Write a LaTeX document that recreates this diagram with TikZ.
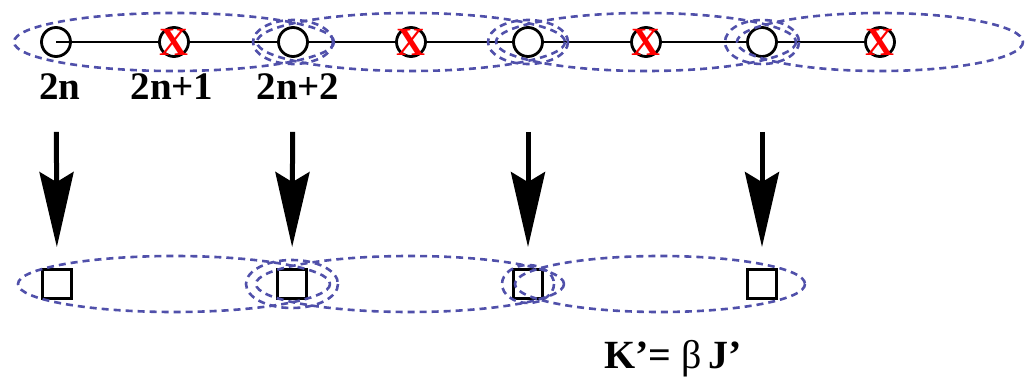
\documentclass[tikz,border=0pt]{standalone}
\usepackage{fontspec}
\setmainfont{Liberation Serif}
\usetikzlibrary{arrows.meta,positioning,backgrounds}
\definecolor{pairblue}{RGB}{80,80,170}

\begin{document}
\begin{tikzpicture}[
    x=1pt, y=-1pt,
    site/.style={circle, draw, line width=2.8pt, minimum size=29pt, inner sep=0pt, fill=white},
    dsite/.style={site, label={[text=red, font=\fontsize{40}{40}\selectfont\bfseries, inner sep=0pt]center:X}},
    spin/.style={rectangle, draw, line width=2.8pt, minimum size=29pt, inner sep=0pt, fill=white},
    lbl/.style={font=\fontsize{39}{39}\selectfont\bfseries, inner sep=0pt, anchor=base},
    pair/.style={draw=pairblue, line width=2.6pt, dash pattern=on 7pt off 5pt},
    decim/.style={line width=5pt, -{Stealth[length=75pt, width=34pt, inset=10pt]}, shorten <=74pt, shorten >=21pt}
]
    \useasboundingbox (0,0) rectangle (1034,380);

    % Original chain
    \node[site, fill=none] (c1) at (56,42) {};
    \node[dsite] (x1) at (174,42) {};
    \node[site] (c2) at (293,42) {};
    \node[dsite] (x2) at (411,42) {};
    \node[site] (c3) at (528,42) {};
    \node[dsite] (x3) at (646,42) {};
    \node[site] (c4) at (762,42) {};
    \node[dsite] (x4) at (880,42) {};

    % Site labels
    \node[lbl] (l1) at (60,99) {2n};
    \node[lbl] (l2) at (172,99) {2n+1};
    \node[lbl] (l3) at (298,99) {2n+2};

    % Decimated chain
    \node[spin] (s1) at (57,284) {};
    \node[spin] (s2) at (292,284) {};
    \node[spin] (s3) at (528,284) {};
    \node[spin] (s4) at (762,284) {};

    % Coupling
    \node[lbl, font=\fontsize{40}{40}\selectfont\bfseries] (rel) at (673,368) {K’= {\mdseries β}\,J’};

    % Bonds
    \begin{scope}[on background layer]
        \draw[line width=2.8pt] (c1.center) -- (x4.center);
    \end{scope}

    % Clusters, top
    \draw[pair] (x1) ellipse [x radius=160, y radius=29];
    \draw[pair] (x2) ellipse [x radius=154, y radius=29];
    \draw[pair] (x3) ellipse [x radius=150, y radius=29];
    \draw[pair] (x4) ellipse [x radius=143, y radius=29];
    \draw[pair] (c2) ellipse [x radius=40, y radius=22];
    \draw[pair] (c3) ellipse [x radius=40, y radius=22];
    \draw[pair] (c4) ellipse [x radius=37, y radius=22];

    % Clusters, bottom
    \draw[pair] (174,284) ellipse [x radius=156, y radius=28];
    \draw[pair] (410,284) ellipse [x radius=154, y radius=28];
    \draw[pair] (660,284) ellipse [x radius=145, y radius=28];
    \draw[pair] (s2) ellipse [x radius=46, y radius=24];
    \draw[pair] (s3) ellipse [x radius=26, y radius=19];

    % Decimation
    \draw[decim] (c1) -- (s1);
    \draw[decim] (c2) -- (s2);
    \draw[decim] (c3) -- (s3);
    \draw[decim] (c4) -- (s4);
\end{tikzpicture}
\end{document}
